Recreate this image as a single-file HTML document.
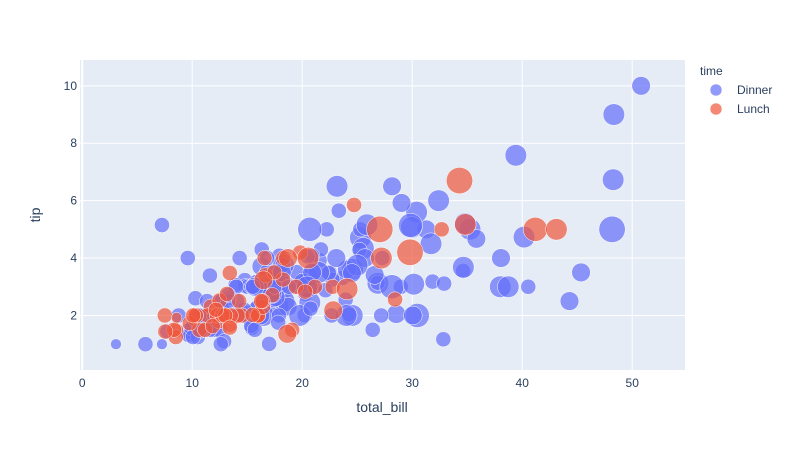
<!DOCTYPE html>
<html><head><meta charset="utf-8"><style>
body{margin:0;background:#fff;font-family:"Liberation Sans",sans-serif;}
svg text{font-family:"Liberation Sans",sans-serif;fill:#2a3f5f;}
</style></head><body>
<svg id="chart" width="795" height="450">
<rect x="0" y="0" width="795" height="450" fill="#fff"/>
<rect x="80" y="60" width="605" height="310" fill="#E5ECF6"/>
<g id="grid"></g><g id="marks"></g><g id="ticks"></g>
<text x="382" y="412" font-size="14" text-anchor="middle">total_bill</text>
<text x="40" y="215" font-size="14" text-anchor="middle" transform="rotate(-90 40 215)">tip</text>
<text x="700" y="75" font-size="12">time</text>
<g><circle cx="716" cy="90" r="6" fill="#636efa" fill-opacity="0.7" stroke="#fff" stroke-width="0.5"/><text x="737" y="94" font-size="12">Dinner</text></g>
<g><circle cx="716" cy="109" r="6" fill="#EF553B" fill-opacity="0.7" stroke="#fff" stroke-width="0.5"/><text x="737" y="113" font-size="12">Lunch</text></g>
</svg>
<script>
const xTicks=[0,10,20,30,40,50];
const yTicks=[2,4,6,8,10];
const dinnerBill=[16.99,10.34,21.01,23.68,24.59,25.29,8.77,26.88,15.04,14.78,10.27,35.26,15.42,18.43,14.83,21.58,10.33,16.29,16.97,20.65,17.92,20.29,15.77,39.42,19.82,17.81,13.37,12.69,21.7,19.65,9.55,18.35,15.06,20.69,17.78,24.06,16.31,16.93,18.69,31.27,16.04,17.46,13.94,9.68,30.4,18.29,22.23,32.4,28.55,18.04,12.54,10.29,34.81,9.94,25.56,19.49,38.01,26.41,11.24,48.27,20.29,13.81,11.02,18.29,17.59,20.08,16.45,3.07,20.23,15.01,12.02,17.07,26.86,25.28,14.73,10.51,17.92,
28.97,22.49,5.75,16.32,22.75,40.17,27.28,12.03,21.01,12.46,11.35,15.38,44.3,22.42,20.92,15.36,20.49,25.21,18.24,14.31,14,7.25,38.07,23.95,25.71,17.31,29.93,
14.07,13.13,17.26,24.55,19.77,29.85,48.17,25,13.39,16.49,21.5,12.66,16.21,13.81,17.51,24.52,20.76,31.71,10.59,10.63,50.81,15.81,7.25,31.85,16.82,32.9,17.89,14.48,9.6,34.63,34.65,23.33,45.35,23.17,40.55,20.69,20.9,30.46,18.15,23.1,15.69,
26.59,38.73,24.27,12.76,30.06,25.89,48.33,13.27,28.17,12.9,28.15,11.59,7.74,30.14,15.98,
20.45,13.28,22.12,24.01,15.69,11.61,10.77,15.53,10.07,12.6,32.83,35.83,29.03,27.18,22.67,17.82,18.78];
const dinnerTip=[1.01,1.66,3.5,3.31,3.61,4.71,2,3.12,1.96,3.23,1.71,5,1.57,3,3.02,3.92,1.67,3.71,3.5,3.35,4.08,2.75,2.23,7.58,3.18,2.34,2,2,4.3,3,1.45,2.5,3,2.45,3.27,3.6,2,3.07,2.31,5,2.24,2.54,3.06,1.32,5.6,3,5,6,2.05,3,2.5,2.6,5.2,1.56,4.34,3.51,3,1.5,1.76,6.73,3.21,2,1.98,3.76,2.64,3.15,2.47,1,2.01,2.09,1.97,3,3.14,5,2.2,1.25,3.08,
3,3.5,1,4.3,3.25,4.73,4,1.5,3,1.5,2.5,3,2.5,3.48,4.08,1.64,4.06,4.29,3.76,4,3,1,4,2.55,4,3.5,5.07,
2.5,2,2.74,2,2,5.14,5,3.75,2.61,2,3.5,2.5,2,2,3,3.48,2.24,4.5,1.61,2,10,3.16,5.15,3.18,4,3.11,2,2,4,3.55,3.68,5.65,3.5,6.5,3,5,3.5,2,3.5,4,1.5,
3.41,3,2.03,2.23,2,5.16,9,2.5,6.5,1.1,3,1.5,1.44,3.09,3,
3,2.72,2.88,2,3,3.39,1.47,3,1.25,1,1.17,4.67,5.92,2,2,1.75,3];
const dinnerSize=[2,3,3,2,4,4,2,4,2,2,2,4,2,4,2,2,3,3,3,3,2,2,2,4,2,4,2,2,2,2,2,4,2,4,2,3,3,3,3,3,3,2,2,2,4,2,2,4,3,2,2,2,4,2,4,2,4,2,2,4,2,2,2,4,3,3,2,1,2,2,2,3,2,2,2,2,2,
2,2,2,2,2,4,2,2,2,2,2,2,3,2,2,2,2,2,2,2,2,1,3,2,3,2,4,
2,2,3,4,4,5,6,4,2,4,4,2,3,2,2,3,2,4,2,2,3,2,2,2,2,2,2,2,2,2,4,2,3,4,2,5,3,5,3,3,2,
3,4,2,2,3,4,4,2,3,2,5,2,2,4,3,
4,2,2,4,3,2,2,2,2,2,2,3,3,2,2,2,2];
const lunchBill=[27.2,22.76,17.29,19.44,16.66,10.07,32.68,15.98,34.83,13.03,18.28,24.71,21.16,
10.65,12.43,24.08,11.69,13.42,14.26,15.95,12.48,29.8,8.52,14.52,11.38,22.82,19.08,20.27,11.17,12.26,18.26,8.51,10.33,14.15,16,13.16,17.47,34.3,41.19,27.05,16.43,8.35,18.64,11.87,9.78,7.51,
19.81,28.44,15.48,16.58,7.56,10.34,43.11,13,13.51,18.71,12.74,13,16.4,20.53,16.47,
12.16,13.42,8.58,13.42,16.27,10.09];
const lunchTip=[4,3,2.71,3,3.4,1.83,5,2.03,5.17,2,4,5.85,3,
1.5,1.8,2.92,2.31,1.68,2.5,2,2.52,4.2,1.48,2,2,2.18,1.5,2.83,1.5,2,3.25,1.25,2,2,2,2.75,3.5,6.7,5,5,2.3,1.5,1.36,1.63,1.73,2,
4.19,2.56,2.02,4,1.44,2,5,2,2,4,2.01,2,2.5,4,3.23,
2.2,3.48,1.92,1.58,2.5,2];
const lunchSize=[4,2,2,2,2,1,2,2,4,2,2,2,2,
2,2,4,2,2,2,2,2,6,2,2,2,3,2,2,2,2,2,2,2,2,2,2,2,6,5,6,2,2,3,2,2,2,
2,2,2,2,2,2,4,2,2,3,2,2,2,4,3,
2,2,1,2,2,2];
const NS="http://www.w3.org/2000/svg";
const X0=80,X1=685,Y0=60,Y1=370,xmin=-0.2,xmax=54.8,ymin=0.1,ymax=10.9;
const xs=v=>X0+(v-xmin)/(xmax-xmin)*(X1-X0);
const ys=v=>Y1-(v-ymin)/(ymax-ymin)*(Y1-Y0);
const rad=s=>13.2*Math.sqrt(s/6);
const grid=document.getElementById('grid'),ticks=document.getElementById('ticks'),marks=document.getElementById('marks');
xTicks.forEach(t=>{
 const l=document.createElementNS(NS,'line');
 l.setAttribute('x1',xs(t));l.setAttribute('x2',xs(t));l.setAttribute('y1',Y0);l.setAttribute('y2',Y1);
 l.setAttribute('stroke','#fff');l.setAttribute('stroke-width',t===0?2:1);
 
 
 grid.appendChild(l);
 const tx=document.createElementNS(NS,'text');
 tx.setAttribute('x',xs(t));tx.setAttribute('y',Y1+17);tx.setAttribute('font-size','12');tx.setAttribute('text-anchor','middle');
 tx.textContent=t;
 
 
 ticks.appendChild(tx);
});
yTicks.forEach(t=>{
 const l=document.createElementNS(NS,'line');
 l.setAttribute('x1',X0);l.setAttribute('x2',X1);l.setAttribute('y1',ys(t));l.setAttribute('y2',ys(t));
 l.setAttribute('stroke','#fff');l.setAttribute('stroke-width',1);
 
 
 grid.appendChild(l);
 const tx=document.createElementNS(NS,'text');
 tx.setAttribute('x',X0-3);tx.setAttribute('y',ys(t)+4);tx.setAttribute('font-size','12');tx.setAttribute('text-anchor','end');
 tx.textContent=t;
 
 
 ticks.appendChild(tx);
});
function drawSeries(bx,ty,sz,color,name){
 const g=document.createElementNS(NS,'g');
 
 
 bx.forEach((b,i)=>{
  const c=document.createElementNS(NS,'circle');
  c.setAttribute('cx',xs(b));c.setAttribute('cy',ys(ty[i]));c.setAttribute('r',rad(sz[i]));
  c.setAttribute('fill',color);c.setAttribute('fill-opacity','0.7');c.setAttribute('stroke','#fff');c.setAttribute('stroke-width','0.5');
  
  
  g.appendChild(c);
 });
 marks.appendChild(g);
}
drawSeries(dinnerBill,dinnerTip,dinnerSize,'#636efa','dinner');
drawSeries(lunchBill,lunchTip,lunchSize,'#EF553B','lunch');
</script>
</body></html>
